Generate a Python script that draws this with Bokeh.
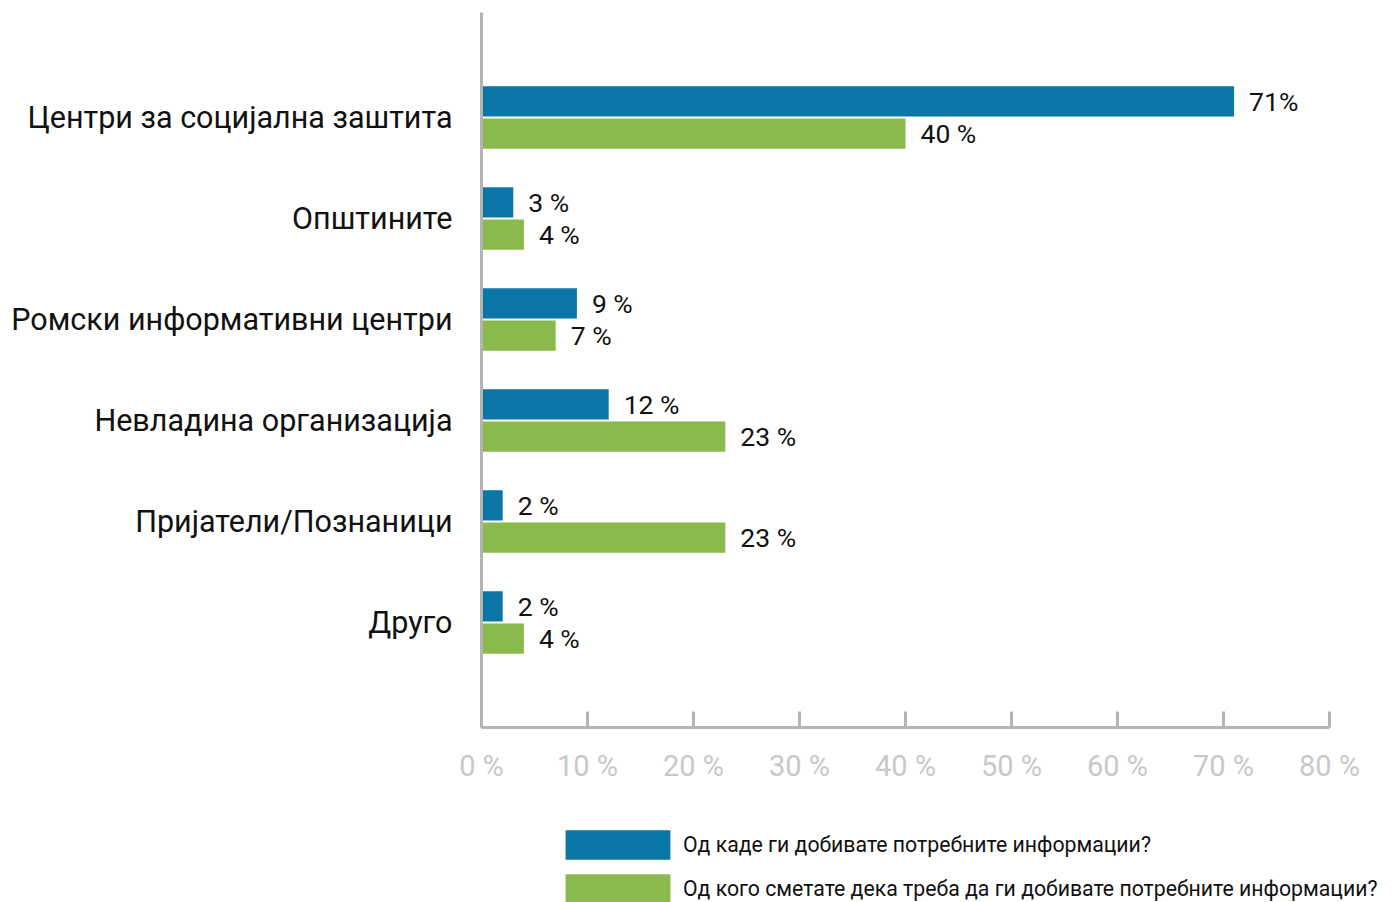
from bokeh.plotting import figure
from bokeh.models import (FactorRange, ColumnDataSource, LabelSet, Legend, LegendItem,
                          FixedTicker, Range1d)
from bokeh.core.properties import value
from bokeh.layouts import column
from bokeh.transform import dodge
from bokeh.embed import file_html
from bokeh.resources import INLINE

categories = ["Центри за социјална заштита", "Општините", "Ромски информативни центри",
              "Невладина организација", "Пријатели/Познаници", "Друго"]
series_names = ["Од каде ги добивате потребните информации?",
                "Од кого сметате дека треба да ги добивате потребните информации?"]
values_from = [71, 3, 9, 12, 2, 2]
values_should = [40, 4, 7, 23, 23, 4]
labels_from = ["71%", "3 %", "9 %", "12 %", "2 %", "2 %"]
labels_should = ["40 %", "4 %", "7 %", "23 %", "23 %", "4 %"]
x_ticks = [0, 10, 20, 30, 40, 50, 60, 70, 80]
x_tick_labels = ["0 %", "10 %", "20 %", "30 %", "40 %", "50 %", "60 %", "70 %", "80 %"]

BLUE = "#0a77a6"
GREEN = "#8aba4b"
FONT = "Roboto"

src = ColumnDataSource(dict(cat=categories, a=values_from, b=values_should,
                            la=labels_from, lb=labels_should))

yr = FactorRange(factors=list(reversed(categories)), range_padding=0.18,
                 range_padding_units="percent")

p = figure(y_range=yr, x_range=(0, 80), frame_width=848, frame_height=715,
           min_border_left=481, min_border_top=12, min_border_right=55, min_border_bottom=73,
           output_backend="svg", toolbar_location=None)
p.outline_line_color = None
p.xgrid.visible = False
p.ygrid.visible = False

r1 = p.hbar(y=dodge("cat", 0.16, range=yr), right="a", left=0, height=0.3,
            source=src, color=BLUE, line_color=None)
r2 = p.hbar(y=dodge("cat", -0.16, range=yr), right="b", left=0, height=0.3,
            source=src, color=GREEN, line_color=None)

for col, lab, off in (("a", "la", 0.16), ("b", "lb", -0.16)):
    ls = LabelSet(x=col, y=dodge("cat", off, range=yr), text=lab, source=src,
                  x_offset=15, text_baseline="middle", text_font=value(FONT),
                  text_font_size="26.5px", text_color="#111111")
    p.add_layout(ls)

AX = "#b4b4b4"
p.xaxis.ticker = FixedTicker(ticks=x_ticks)
p.xaxis.major_label_overrides = {t: l for t, l in zip(x_ticks, x_tick_labels)}
p.xaxis.minor_tick_line_color = None
p.xaxis.major_tick_in = 16
p.xaxis.major_tick_out = 0
p.xaxis.major_tick_line_color = AX
p.xaxis.major_tick_line_width = 3
p.xaxis.axis_line_color = AX
p.xaxis.axis_line_width = 3
p.xaxis.major_label_text_font = FONT
p.xaxis.major_label_text_font_size = "29px"
p.xaxis.major_label_text_color = "#c8c8c8"
p.xaxis.major_label_standoff = 21

p.yaxis.major_tick_line_color = None
p.yaxis.minor_tick_line_color = None
p.yaxis.axis_line_color = AX
p.yaxis.axis_line_width = 3
p.yaxis.major_label_text_font = FONT
p.yaxis.major_label_text_font_size = "30.5px"
p.yaxis.major_label_text_color = "#111111"
p.yaxis.major_label_standoff = 23

# legend strip (separate figure below the chart, frame not aligned with the chart)
pl = figure(width=1384, height=102, x_range=Range1d(0, 80),
            y_range=FactorRange(factors=list(reversed(categories))),
            x_axis_location=None, y_axis_location=None,
            min_border=0, output_backend="svg", toolbar_location=None)
pl.grid.visible = False
pl.outline_line_color = None
k1 = pl.hbar(y="cat", right="a", left=0, height=0.3, source=src, color=BLUE,
             line_color=None, visible=False)
k2 = pl.hbar(y="cat", right="b", left=0, height=0.3, source=src, color=GREEN,
             line_color=None, visible=False)

for fig in (p, pl):
    try:
        fig.frame_align = False
    except Exception:
        pass

legend = Legend(items=[LegendItem(label=series_names[0], renderers=[k1]),
                       LegendItem(label=series_names[1], renderers=[k2])],
                location=(552, -5), orientation="vertical",
                glyph_width=131, glyph_height=37, spacing=7, label_standoff=0,
                label_text_font=FONT, label_text_font_size="21.25px",
                label_text_color="#111111", border_line_color=None,
                background_fill_alpha=0, padding=0, margin=0,
                inactive_fill_alpha=0)
pl.add_layout(legend, "center")

layout = column(p, pl, spacing=0)
open("out.html", "w").write(file_html(layout, INLINE))
